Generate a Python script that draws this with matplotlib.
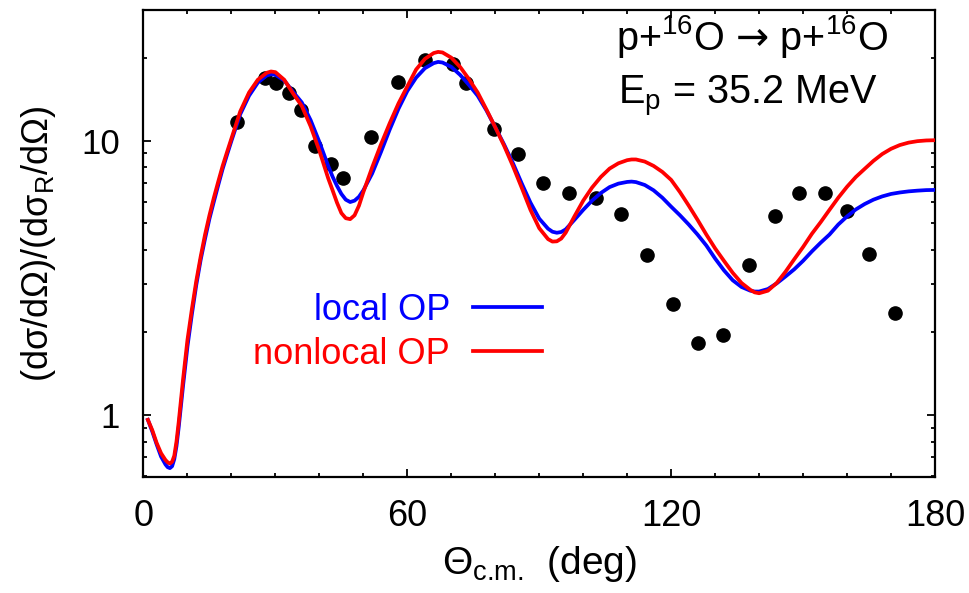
import matplotlib
matplotlib.use("Agg")
import matplotlib.pyplot as plt
from matplotlib.ticker import LogLocator, FixedLocator, NullFormatter, MultipleLocator

plt.rcParams['font.family'] = ['Liberation Sans', 'DejaVu Sans']
plt.rcParams['mathtext.fontset'] = 'custom'
plt.rcParams['mathtext.rm'] = 'Liberation Sans'
plt.rcParams['mathtext.it'] = 'Liberation Sans'
plt.rcParams['mathtext.bf'] = 'Liberation Sans:bold'
plt.rcParams['mathtext.sf'] = 'DejaVu Sans'

# ---- data ----
exp_theta = [21.2, 27.7, 30.1, 33.1, 35.8, 39.0, 42.6, 45.4, 51.7, 57.8, 64.1, 70.4,
             73.4, 79.6, 85.1, 90.8, 96.8, 102.8, 108.6, 114.4, 120.4, 126.1, 131.9,
             137.7, 143.5, 149.1, 154.9, 160.0, 165.1, 170.9]
exp_ratio = [11.7, 17.0, 16.3, 14.9, 12.9, 9.57, 8.22, 7.31, 10.3, 16.4, 19.7, 19.0,
             16.2, 11.0, 8.92, 7.03, 6.43, 6.17, 5.41, 3.84, 2.54, 1.83, 1.95,
             3.53, 5.31, 6.45, 6.46, 5.54, 3.87, 2.35]

theta = [1, 2, 3, 4, 5, 5.5, 6, 6.5, 7, 7.5, 8, 9, 10, 11, 12, 13, 14, 15, 16, 17, 18,
         19, 20, 22, 24, 26, 28, 29, 30, 32, 34, 36, 38, 40, 42, 43, 44, 45, 46, 47,
         48, 49, 50, 52, 54, 56, 58, 60, 62, 64, 66, 67, 68, 70, 72, 74, 76, 78, 80,
         82, 84, 86, 88, 90, 92, 93, 94, 95, 96, 98, 100, 102, 104, 106, 108, 110,
         111, 112, 114, 116, 118, 120, 122, 124, 126, 128, 130, 132, 134, 136, 138,
         139, 140, 142, 144, 146, 148, 150, 152, 154, 156, 158, 160, 162, 164, 166,
         168, 170, 172, 174, 176, 178, 180]

local_op = [0.96, 0.87, 0.78, 0.705, 0.66, 0.645, 0.64, 0.65, 0.69, 0.77, 0.90, 1.28,
            1.78, 2.33, 2.98, 3.68, 4.4, 5.2, 6.0, 6.9, 7.9,
            8.9, 10.0, 12.5, 14.6, 16.3, 17.3, 17.5, 17.4, 16.6, 15.1, 13.8, 11.9,
            9.9, 8.1, 7.4, 6.85, 6.4, 6.1, 5.98,
            6.05, 6.25, 6.6, 7.6, 9.1, 11.0, 13.1, 15.2, 17.0, 18.4, 19.2, 19.4,
            19.3, 18.6, 17.4, 16.0, 14.6, 12.9, 11.2,
            9.7, 8.3, 7.0, 5.95, 5.2, 4.78, 4.66, 4.62, 4.65, 4.75, 5.15, 5.6, 6.05,
            6.45, 6.78, 6.98, 7.08,
            7.1, 7.07, 6.9, 6.6, 6.2, 5.75, 5.35, 4.95, 4.55, 4.15, 3.72, 3.37, 3.1,
            2.93, 2.84,
            2.82, 2.82, 2.88, 3.02, 3.2, 3.4, 3.65, 3.95, 4.25, 4.55, 4.95, 5.3,
            5.62, 5.88, 6.1,
            6.27, 6.4, 6.48, 6.54, 6.58, 6.61, 6.62]

nonlocal_op = [0.96, 0.88, 0.79, 0.725, 0.685, 0.672, 0.665, 0.675, 0.71, 0.8, 0.94,
               1.35, 1.88, 2.43, 3.08, 3.78, 4.55, 5.35, 6.2, 7.1, 8.1,
               9.1, 10.2, 12.8, 15.0, 16.7, 17.7, 17.9, 17.8, 16.7, 14.9, 13.4, 11.3,
               9.2, 7.3, 6.6, 5.95, 5.45, 5.22, 5.18,
               5.35, 5.8, 6.5, 8.0, 9.7, 11.6, 13.7, 15.8, 18.2, 19.9, 20.9, 21.1,
               21.0, 20.1, 18.6, 16.8, 15.0, 13.0, 11.2,
               9.6, 8.1, 6.75, 5.6, 4.8, 4.38, 4.29, 4.3, 4.4, 4.62, 5.3, 6.05, 6.75,
               7.38, 7.92, 8.28, 8.5,
               8.55, 8.55, 8.4, 8.1, 7.7, 7.2, 6.5, 5.8, 5.15, 4.55, 4.05, 3.65, 3.3,
               3.03, 2.86,
               2.8, 2.78, 2.84, 3.03, 3.33, 3.7, 4.1, 4.58, 5.05, 5.6, 6.2, 6.8, 7.38,
               7.9, 8.45,
               8.95, 9.35, 9.65, 9.85, 9.97, 10.03, 10.05]

x_major = [0, 60, 120, 180]
y_major = [1, 10]
y_major_labels = ['1', '10']

# ---- figure ----
fig = plt.figure(figsize=(9.7, 5.93), dpi=100)
ax = fig.add_axes([143.5 / 970, 1 - 477 / 593, (935 - 143.5) / 970, (477 - 10) / 593])

ax.plot(theta, local_op, color='#0000ff', lw=2.7, label='local OP', zorder=3)
ax.plot(theta, nonlocal_op, color='#ff0000', lw=2.7, label='nonlocal OP', zorder=4)
ax.plot(exp_theta, exp_ratio, 'o', color='black', ms=9.5, zorder=2)

ax.set_yscale('log')
ax.set_xlim(0, 180)
ax.set_ylim(0.594, 30)

ax.xaxis.set_major_locator(FixedLocator(x_major))
ax.xaxis.set_minor_locator(MultipleLocator(10))
ax.yaxis.set_major_locator(FixedLocator(y_major))
ax.set_yticklabels(y_major_labels)
ax.yaxis.set_minor_locator(LogLocator(base=10, subs=range(2, 10)))
ax.yaxis.set_minor_formatter(NullFormatter())

ax.tick_params(which='both', direction='in', top=True, right=True, width=1.3)
ax.tick_params(which='major', length=6)
ax.tick_params(which='minor', length=3)
ax.tick_params(axis='x', which='major', labelsize=26, pad=16)
ax.tick_params(axis='y', which='major', labelsize=25, pad=17)
for s in ax.spines.values():
    s.set_linewidth(1.6)

ax.set_xlabel('Θ$_{\\text{c.m.}}$  (deg)', fontsize=28, labelpad=7)
ax.set_ylabel('(dσ/dΩ)/(dσ$_{\\mathrm{R}}$/dΩ)', fontsize=26, labelpad=17)

ax.text(0.597, 0.915, 'p+$^{16}$O $\\mathsf{\u2192}$ p+$^{16}$O', transform=ax.transAxes,
        fontsize=28.5, ha='left', va='baseline')
ax.text(0.600, 0.800, 'E$_{\\mathrm{p}}$ = 35.2 MeV', transform=ax.transAxes,
        fontsize=28.5, ha='left', va='baseline')

leg = ax.legend(loc='center right', bbox_to_anchor=(0.5035, 0.31), frameon=False,
                fontsize=26, markerfirst=False, handlelength=1.9, handletextpad=0.65,
                labelspacing=0.25, borderpad=0, borderaxespad=0, labelcolor='linecolor')

fig.savefig('out.png', dpi=100)
